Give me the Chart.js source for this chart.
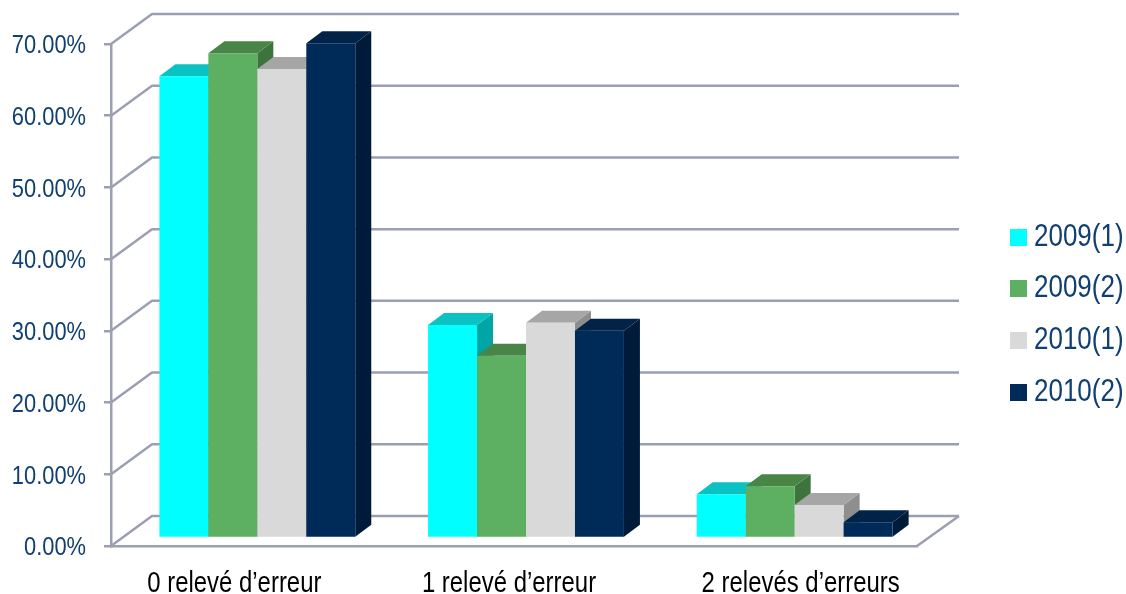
<!DOCTYPE html>
<html>
<head>
<meta charset="utf-8">
<style>
  html, body { margin: 0; padding: 0; background: #fff; }
  #wrap { position: relative; width: 1126px; height: 594px; overflow: hidden; }
  #legend { position: absolute; left: 1010px; top: 209.5px; font: 31.5px 'Liberation Sans', sans-serif; color: #0F3F73; }
  #legend div { height: 51.7px; line-height: 51.7px; white-space: nowrap; }
  #legend i { display: inline-block; width: 17px; height: 17px; margin-right: 7px; }
  #legend span { display: inline-block; transform: scaleX(0.825); transform-origin: left center; }
</style>
<script src="https://cdn.jsdelivr.net/npm/chart.js@4"></script>
</head>
<body>
<div id="wrap"><canvas id="chart"></canvas><div id="legend"></div></div>
<script>
const categories = ['0 relevé d’erreur', '1 relevé d’erreur', '2 relevés d’erreurs'];
const seriesNames = ['2009(1)', '2009(2)', '2010(1)', '2010(2)'];
const values2009a = [64.4, 29.7, 6.1];
const values2009b = [67.6, 25.4, 7.2];
const values2010a = [65.4, 30.0, 4.6];
const values2010b = [69.0, 28.9, 2.2];

const frontColors = ['#00FFFF', '#5DAF61', '#D9D9D9', '#002B59'];
const topColors = ['#0AC2C2', '#488547', '#A6A6A6', '#002347'];
const sideColors = ['#00A6A6', '#3E733D', '#8E8E8E', '#001B3A'];

const axisColor = '#9A9FB4';
const tickColor = '#0F3F73';
const fontName = "'Liberation Sans', sans-serif";

// box depth of the plot and of the bars, and where the bars stand on the floor
const wallDepth = { x: 41, y: 30 };
const barDepth = { x: 16, y: 12 };
const barShift = { x: 12, y: 8 };
// the category labels are not centred under their groups in the original
const labelNudge = [-11, -5, 18];
// the original text is squeezed sideways and no narrow font is installed
const textSqueeze = 0.825;

const walls = {
  id: 'walls',
  beforeDatasetsDraw(chart) {
    const { ctx, chartArea, scales } = chart;
    ctx.save();
    ctx.strokeStyle = axisColor;
    ctx.lineWidth = 2.5;
    ctx.lineJoin = 'round';
    scales.y.ticks.forEach(t => {
      const y = scales.y.getPixelForValue(t.value);
      ctx.beginPath();
      ctx.moveTo(chartArea.left, y);
      ctx.lineTo(chartArea.left + wallDepth.x, y - wallDepth.y);
      ctx.lineTo(chartArea.right + wallDepth.x + 1, y - wallDepth.y);
      ctx.stroke();
    });
    // right edge of the floor
    ctx.beginPath();
    ctx.moveTo(chartArea.right, chartArea.bottom);
    ctx.lineTo(chartArea.right + wallDepth.x + 1, chartArea.bottom - wallDepth.y);
    ctx.stroke();
    ctx.restore();
  }
};

// draws the series left to right so each box covers the side of the one before
const bars3d = {
  id: 'bars3d',
  beforeDatasetsDraw(chart) {
    const ctx = chart.ctx;
    seriesNames.forEach((name, s) => {
      const meta = chart.getDatasetMeta(s);
      ctx.save();
      ctx.translate(barShift.x, -barShift.y);
      meta.data.forEach(bar => {
        const { x, y, width, base } = bar.getProps(['x', 'y', 'width', 'base'], true);
        const l = x - width / 2, r = x + width / 2;
        ctx.fillStyle = sideColors[s];
        ctx.beginPath();
        ctx.moveTo(r, y);
        ctx.lineTo(r + barDepth.x, y - barDepth.y);
        ctx.lineTo(r + barDepth.x, base - barDepth.y);
        ctx.lineTo(r, base);
        ctx.closePath();
        ctx.fill();
        ctx.fillStyle = topColors[s];
        ctx.beginPath();
        ctx.moveTo(l, y);
        ctx.lineTo(l + barDepth.x, y - barDepth.y);
        ctx.lineTo(r + barDepth.x, y - barDepth.y);
        ctx.lineTo(r, y);
        ctx.closePath();
        ctx.fill();
      });
      meta.controller.draw();
      ctx.restore();
    });
    return false;
  },
  beforeDraw(chart) {
    chart.scales.x.getLabelItems().forEach((item, i) => {
      if (!item.nudged) {
        item.options.translation[0] += labelNudge[i];
        item.nudged = true;
      }
    });
  }
};

const seriesValues = [values2009a, values2009b, values2010a, values2010b];

const ctx = document.getElementById('chart').getContext('2d');
const plainFillText = ctx.fillText.bind(ctx);
ctx.fillText = (text, x, y, maxWidth) => {
  ctx.save();
  ctx.translate(x, y);
  ctx.scale(textSqueeze, 1);
  if (maxWidth === undefined) plainFillText(text, 0, 0);
  else plainFillText(text, 0, 0, maxWidth);
  ctx.restore();
};

new Chart(ctx, {
  type: 'bar',
  data: {
    labels: categories,
    datasets: seriesNames.map((name, i) => ({
      label: name,
      data: seriesValues[i],
      backgroundColor: frontColors[i],
      borderWidth: 0
    }))
  },
  options: {
    responsive: true,
    maintainAspectRatio: false,
    animation: false,
    layout: { padding: { top: 44, right: 209, left: 0, bottom: 0 } },
    datasets: { bar: { barPercentage: 1, categoryPercentage: 0.729 } },
    scales: {
      x: {
        afterFit(scale) { scale.height = 48; },
        grid: { display: false, drawTicks: false },
        border: { color: axisColor, width: 2.5 },
        ticks: {
          color: '#000',
          padding: 21,
          maxRotation: 0,
          font: { family: fontName, size: 29 }
        }
      },
      y: {
        min: 0,
        max: 70,
        afterFit(scale) { scale.width = 111; },
        grid: { drawOnChartArea: false, color: axisColor, lineWidth: 2.5, tickLength: 7 },
        border: { color: axisColor, width: 2.5 },
        ticks: {
          stepSize: 10,
          color: tickColor,
          padding: 18,
          labelOffset: 2,
          font: { family: fontName, size: 26.5 },
          callback: v => v.toFixed(2) + '%'
        }
      }
    },
    plugins: {
      tooltip: { enabled: false },
      legend: { display: false }
    }
  },
  plugins: [walls, bars3d]
});

const legendBox = document.getElementById('legend');
seriesNames.forEach((name, i) => {
  const row = document.createElement('div');
  const swatch = document.createElement('i');
  const label = document.createElement('span');
  swatch.style.background = frontColors[i];
  label.textContent = name;
  row.appendChild(swatch);
  row.appendChild(label);
  legendBox.appendChild(row);
});
</script>
</body>
</html>
